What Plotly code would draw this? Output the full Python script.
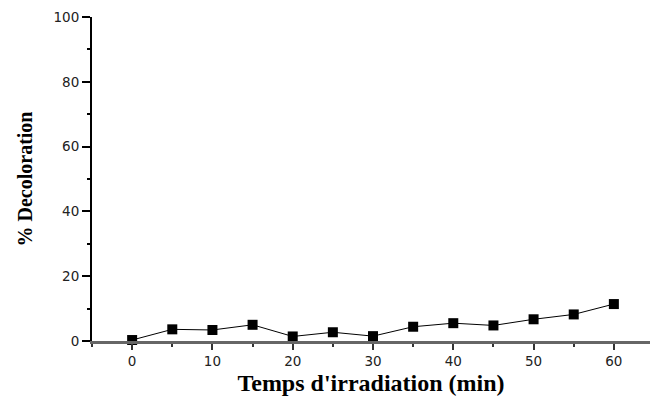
import plotly.graph_objects as go

# Irradiation time (min) and measured decoloration (%)
temps = [0, 5, 10, 15, 20, 25, 30, 35, 40, 45, 50, 55, 60]
decoloration = [0.3, 3.6, 3.4, 5.0, 1.4, 2.7, 1.5, 4.4, 5.5, 4.8, 6.7, 8.2, 11.4]

x_ticks = [0, 10, 20, 30, 40, 50, 60]
y_ticks = [0, 20, 40, 60, 80, 100]

fig = go.Figure()
fig.add_trace(go.Scatter(
    x=temps,
    y=decoloration,
    mode="lines+markers",
    line=dict(color="black", width=1),
    marker=dict(symbol="square", size=10, color="black"),
    cliponaxis=False,
    showlegend=False,
))

tick_font = dict(family="DejaVu Sans, Arial, sans-serif", size=13.5, color="#222")
title_font = dict(family="Liberation Serif, Times New Roman, serif", size=24, color="black")

fig.update_layout(
    width=650,
    height=396,
    margin=dict(l=92, r=0, t=17, b=55),
    paper_bgcolor="white",
    plot_bgcolor="white",
    xaxis=dict(
        range=[-5, 64.5],
        tickvals=x_ticks,
        ticks="outside",
        ticklen=6,
        tickwidth=1.5,
        tickcolor="#333",
        showline=True,
        linecolor="#666",
        linewidth=2.5,
        showgrid=False,
        zeroline=False,
        automargin=False,
        tickfont=tick_font,
        minor=dict(dtick=5, ticks="outside", ticklen=3, tickcolor="#333", tickwidth=1.5),
        title=dict(text="<b>Temps d'irradiation (min)</b>", font=title_font, standoff=12),
    ),
    yaxis=dict(
        range=[0, 100],
        tickvals=y_ticks,
        ticks="outside",
        ticklen=8,
        tickwidth=1.5,
        tickcolor="black",
        showline=True,
        linecolor="black",
        linewidth=2,
        showgrid=False,
        zeroline=False,
        automargin=False,
        tickfont=tick_font,
        minor=dict(dtick=10, ticks="outside", ticklen=3, tickcolor="black", tickwidth=1.5),
        title=dict(text="<b>% Decoloration</b>", font=dict(title_font, size=20), standoff=16),
    ),
)

fig.write_html("out.html")
